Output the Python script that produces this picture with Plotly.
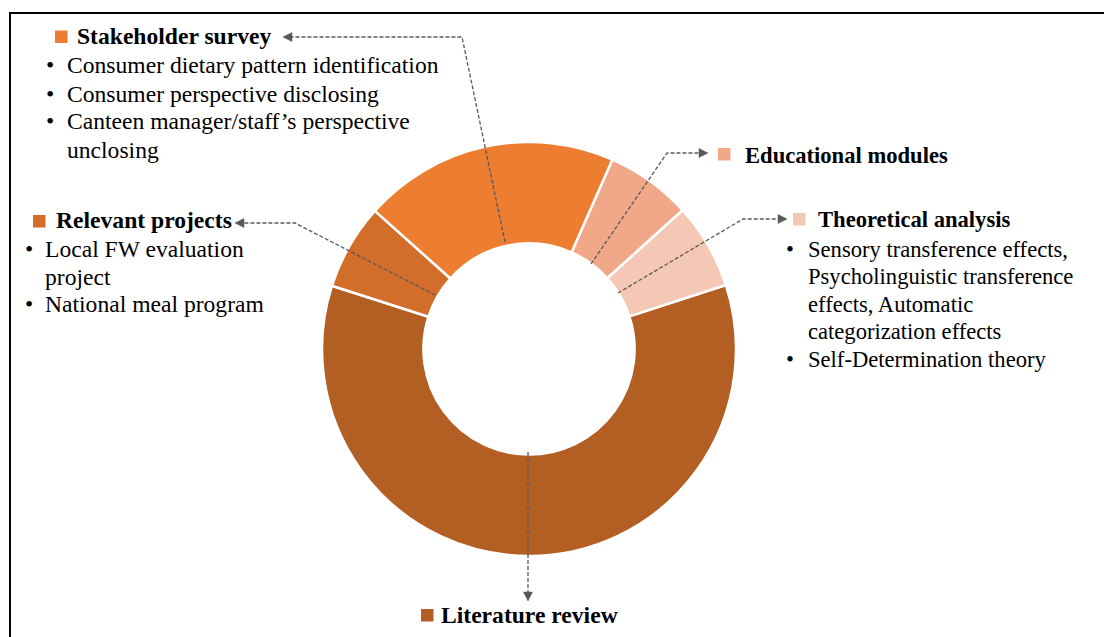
import plotly.graph_objects as go

W, H = 1104, 637

# ---- data ----
categories = ["Literature review", "Relevant projects", "Stakeholder survey",
              "Educational modules", "Theoretical analysis"]
values = [60, 6.7, 20, 6.7, 6.7]
colors = ["#B35E22", "#D26D2A", "#ED7D31", "#F0A888", "#F5C8B6"]

stake_items = ["Consumer dietary pattern identification",
               "Consumer perspective disclosing",
               "Canteen manager/staff\u2019s perspective",
               "unclosing"]
stake_bullets = [True, True, True, False]
relevant_items = ["Local FW evaluation", "project", "National meal program"]
relevant_bullets = [True, False, True]
theory_items = ["Sensory transference effects,",
                "Psycholinguistic transference",
                "effects, Automatic",
                "categorization effects",
                "Self-Determination theory"]
theory_bullets = [True, False, False, False, True]


def px(x):
    return x / W


def py(y):
    return 1 - y / H


FONT = "Liberation Serif, Times New Roman, serif"
FS_L = 23.6   # left / bottom text
FS_R = 22.6   # right-hand text
ARROW_COL = "#595959"

cx, cy, R = 529, 349, 207

fig = go.Figure(go.Pie(
    labels=categories, values=values, hole=0.51, sort=False,
    direction="clockwise", rotation=72,
    marker=dict(colors=colors, line=dict(color="white", width=2.5)),
    textinfo="none", hoverinfo="label", showlegend=False,
    domain=dict(x=[px(cx - R), px(cx + R)], y=[py(cy + R), py(cy - R)]),
))

shapes = []
annotations = []

# frame
shapes.append(dict(type="rect", xref="paper", yref="paper",
                   x0=px(10), x1=px(1120), y0=py(660), y1=py(13),
                   line=dict(color="black", width=2), fillcolor="rgba(0,0,0,0)"))


def square(x0, y0, size, color):
    shapes.append(dict(type="rect", xref="paper", yref="paper",
                       x0=px(x0), x1=px(x0 + size), y0=py(y0 + size), y1=py(y0),
                       line=dict(width=0), fillcolor=color))


def text(x, y, s, fs, bold=False, anchor="left"):
    annotations.append(dict(
        x=px(x), y=py(y), xref="paper", yref="paper", showarrow=False,
        xanchor=anchor, yanchor="middle",
        text=("<b>%s</b>" % s) if bold else s,
        font=dict(family=FONT, size=fs, color="black"), borderpad=0))


def arrow(points):
    # dashed polyline ending with a filled triangular head
    (x1, y1), (x2, y2) = points[-2], points[-1]
    dx, dy = x2 - x1, y2 - y1
    ln = (dx * dx + dy * dy) ** 0.5
    ux, uy = dx / ln, dy / ln
    hl, hw = 9, 4.5
    bx, by = x2 - ux * hl, y2 - uy * hl
    pts = points[:-1] + [(bx, by)]
    path = "M " + " L ".join("%.5f,%.5f" % (px(a), py(b)) for a, b in pts)
    shapes.append(dict(type="path", xref="paper", yref="paper", path=path,
                       line=dict(color=ARROW_COL, width=1.3, dash="4px,2px")))
    nx, ny = -uy, ux
    tri = [(x2, y2), (bx + nx * hw, by + ny * hw), (bx - nx * hw, by - ny * hw)]
    tpath = "M " + " L ".join("%.5f,%.5f" % (px(a), py(b)) for a, b in tri) + " Z"
    shapes.append(dict(type="path", xref="paper", yref="paper", path=tpath,
                       line=dict(color=ARROW_COL, width=0.5), fillcolor=ARROW_COL))


def block(title, color, sq, title_x, title_y, items, bullets, bullet_x, text_x, y0, dy, fs):
    square(sq[0], sq[1], 12.5, color)
    text(title_x, title_y, title, fs, bold=True)
    for i, (s, b) in enumerate(zip(items, bullets)):
        y = y0 + i * dy
        if b:
            text(bullet_x, y, "\u2022", fs, anchor="center")
        text(text_x, y, s, fs)


# Stakeholder survey
block("Stakeholder survey", colors[2], (55, 30.5), 75.5, 36,
      stake_items, stake_bullets, 50, 66, 65.5, 28, FS_L)
arrow([(505, 242), (462, 37), (283, 37)])

# Educational modules
square(718, 148, 12.5, colors[3])
text(743.5, 155.5, "Educational modules", FS_R, bold=True)
arrow([(591, 264), (667, 153), (708, 153)])

# Theoretical analysis
block("Theoretical analysis", colors[4], (793, 213), 816.5, 219.5,
      theory_items, theory_bullets, 790, 806.5, 249, 27.6, FS_R)
arrow([(618, 293), (743, 219), (787, 219)])

# Relevant projects
block("Relevant projects", colors[1], (33, 215), 54.5, 220,
      relevant_items, relevant_bullets, 29, 43.5, 249, 27.6, FS_L)
arrow([(435, 295), (295, 223), (235, 223)])

# Literature review
square(421, 609, 12.5, colors[0])
text(439.5, 614.5, "Literature review", FS_L, bold=True)
arrow([(528, 452), (528, 601)])

fig.update_layout(
    width=W, height=H, margin=dict(l=0, r=0, t=0, b=0, pad=0),
    paper_bgcolor="white", plot_bgcolor="white",
    shapes=shapes, annotations=annotations, showlegend=False,
)

fig.write_html("out.html", config={"displayModeBar": False})
